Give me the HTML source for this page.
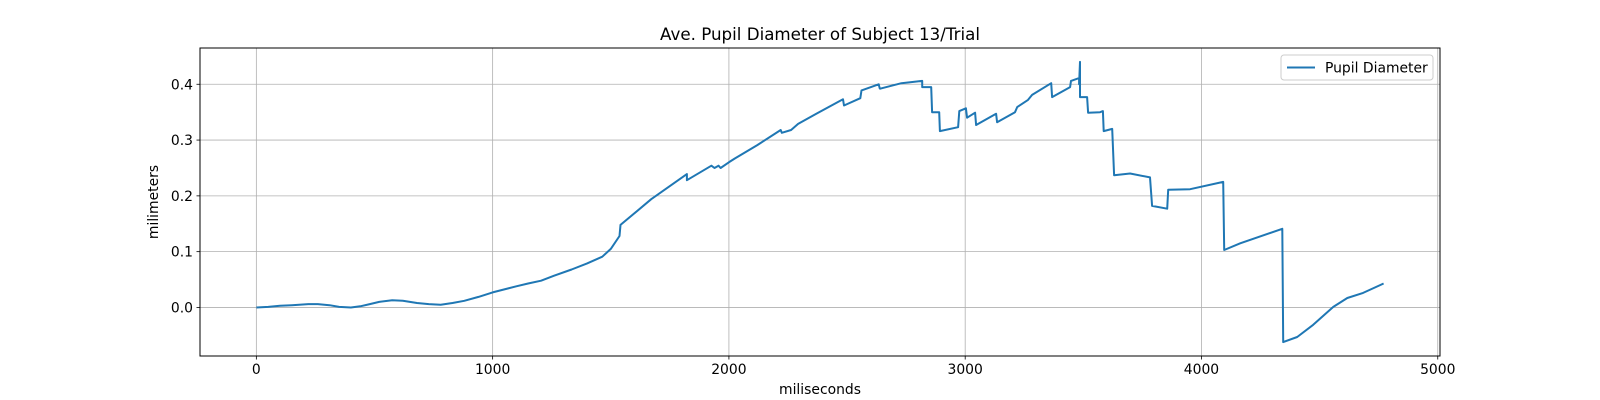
<!DOCTYPE html>
<html><head><meta charset="utf-8"><style>
body{margin:0;background:#fff;}
svg{display:block;font-family:"DejaVu Sans","Liberation Sans",sans-serif;}
</style></head><body>
<svg id="chart" width="1600" height="400">
<rect width="1600" height="400" fill="#fff"/>
<g id="grid"></g>
<g id="xticks"></g>
<g id="yticks"></g>
<path id="line" fill="none" stroke="#1f77b4" stroke-width="2" stroke-linejoin="round"/>
<rect x="200" y="48" width="1240" height="308" fill="none" stroke="#000" stroke-width="1"/>
<text x="820" y="40" text-anchor="middle" font-size="16.7">Ave. Pupil Diameter of Subject 13/Trial</text>
<text x="820" y="394" text-anchor="middle" font-size="13.9">miliseconds</text>
<text x="0" y="0" transform="translate(158,202) rotate(-90)" text-anchor="middle" font-size="13.9">milimeters</text>
<g>
<rect x="1281" y="55" width="152" height="25" rx="3" fill="#fff" stroke="#ccc"/>
<line x1="1287" y1="67.5" x2="1315" y2="67.5" stroke="#1f77b4" stroke-width="2"/>
<text x="1325" y="72.5" font-size="13.9">Pupil Diameter</text>
</g>
</svg>
<script>
const xs=[0,50,100,150,220,260,310,350,400,440,480,520,575,620,680,730,780,830,880,940,1000,1100,1150,1205,1260,1334,1400,1464,1500,1537,1541,1671,1822,1822,1926,1939,1956,1965,1999,2025,2120,2219,2224,2263,2293,2370,2483,2487,2556,2561,2634,2638,2640,2730,2818,2818,2856,2860,2890,2893,2970,2975,3003,3008,3042,3046,3131,3135,3211,3220,3266,3283,3364,3368,3444,3448,3482,3482,3486,3486,3516,3520,3571,3583,3586,3622,3630,3698,3782,3791,3855,3859,3952,4092,4096,4164,4342,4346,4405,4473,4558,4617,4684,4756,4771];
const ys=[0,0.001,0.003,0.004,0.006,0.006,0.004,0.001,0,0.002,0.006,0.010,0.013,0.012,0.008,0.006,0.005,0.008,0.012,0.019,0.027,0.038,0.043,0.048,0.057,0.068,0.079,0.091,0.105,0.128,0.148,0.194,0.239,0.228,0.254,0.250,0.254,0.250,0.260,0.267,0.291,0.318,0.313,0.318,0.329,0.347,0.373,0.362,0.375,0.389,0.400,0.393,0.392,0.402,0.406,0.395,0.395,0.350,0.350,0.316,0.323,0.352,0.357,0.340,0.349,0.327,0.347,0.332,0.350,0.359,0.372,0.381,0.402,0.377,0.395,0.406,0.411,0.400,0.440,0.377,0.377,0.349,0.350,0.352,0.316,0.320,0.237,0.240,0.233,0.182,0.177,0.211,0.212,0.225,0.103,0.115,0.141,-0.062,-0.053,-0.031,0.001,0.017,0.026,0.040,0.043];
const xTicks=[0,1000,2000,3000,4000,5000];
const yTicks=[0.0,0.1,0.2,0.3,0.4];
const yTickLabels=["0.0","0.1","0.2","0.3","0.4"];
const X0=-238.5,X1=5009.5,Y0=-0.087,Y1=0.465;
const L=200,R=1440,T=48,B=356;
function sx(v){return L+(v-X0)/(X1-X0)*(R-L);}
function sy(v){return B-(v-Y0)/(Y1-Y0)*(B-T);}
const NS="http://www.w3.org/2000/svg";
const grid=document.getElementById('grid'),gx=document.getElementById('xticks'),gy=document.getElementById('yticks');
function mk(tag,attrs,parent){const e=document.createElementNS(NS,tag);for(const k in attrs)e.setAttribute(k,attrs[k]);parent.appendChild(e);return e;}
xTicks.forEach(t=>{const x=sx(t);
const g=mk('line',{x1:x,x2:x,y1:T,y2:B,stroke:'#b0b0b0','stroke-width':0.8},grid);


const tk=mk('line',{x1:x,x2:x,y1:B,y2:B+3.5,stroke:'#000','stroke-width':0.8},gx);


const tx=mk('text',{x:x,y:B+18,'text-anchor':'middle','font-size':13.9},gx);tx.textContent=String(t);


});
yTicks.forEach((t,i)=>{const y=sy(t);
const g=mk('line',{x1:L,x2:R,y1:y,y2:y,stroke:'#b0b0b0','stroke-width':0.8},grid);


const tk=mk('line',{x1:L-3.5,x2:L,y1:y,y2:y,stroke:'#000','stroke-width':0.8},gy);


const tx=mk('text',{x:L-7,y:y+5,'text-anchor':'end','font-size':13.9},gy);tx.textContent=yTickLabels[i];


});
document.getElementById('line').setAttribute('d',xs.map((x,i)=>(i?'L':'M')+sx(x).toFixed(1)+' '+sy(ys[i]).toFixed(1)).join(' '));
</script>
</body></html>
